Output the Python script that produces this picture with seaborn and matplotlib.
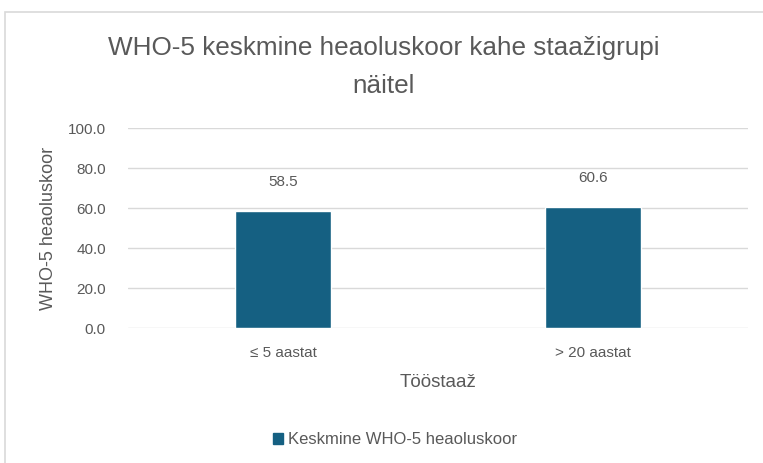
import matplotlib
matplotlib.use("Agg")
import matplotlib.pyplot as plt
import seaborn as sns
import pandas as pd
from matplotlib.patches import Rectangle, Patch

categories = ["≤ 5 aastat", "> 20 aastat"]
values = [58.5, 60.6]
series_name = "Keskmine WHO-5 heaoluskoor"
title = "WHO-5 keskmine heaoluskoor kahe staažigrupi\nnäitel"
xlabel = "Tööstaaž"
ylabel = "WHO-5 heaoluskoor"

sns.set_theme(style="white")
plt.rcParams['font.family'] = ['Liberation Sans', 'DejaVu Sans']

df = pd.DataFrame({"cat": categories, "val": values})
fig = plt.figure(figsize=(7.63, 4.63), dpi=100)
ax = fig.add_axes([128/763, 1-328/463, 620/763, 200/463])

bar_color = "#156082"
text_color = "#595959"
sns.barplot(data=df, x="cat", y="val", color=bar_color, width=0.31, ax=ax,
            saturation=1, zorder=3)
ax.set_ylim(0, 100)
ax.set_xlim(-0.5, 1.5)
ax.set_yticks([0, 20, 40, 60, 80, 100])
ax.set_yticklabels([f"{v:.1f}" for v in [0, 20, 40, 60, 80, 100]])
ax.yaxis.grid(True, color="#d9d9d9", linewidth=1, zorder=0)
for s in ax.spines.values():
    s.set_visible(False)
ax.tick_params(axis="both", length=0, colors=text_color, labelsize=11)
ax.tick_params(axis="x", pad=13)
ax.tick_params(axis="y", pad=16)
ax.set_xlabel(xlabel, color=text_color, fontsize=13.5, labelpad=10)
ax.set_ylabel(ylabel, color=text_color, fontsize=13, labelpad=8)

for c in ax.containers:
    ax.bar_label(c, fmt="%.1f", padding=16, color=text_color, fontsize=11)

fig.text(0.5 * (5 + 763) / 763, 1 - 67/463, title, ha="center", va="center",
         color=text_color, fontsize=18.8, linespacing=1.75)

fig.add_artist(Rectangle((5/763, -0.01), 1, 1 - 12/463 + 0.01, transform=fig.transFigure,
                         fill=False, edgecolor="#d9d9d9", linewidth=1.2))

handles = [Patch(facecolor=bar_color, edgecolor=bar_color)]
fig.legend(handles, [series_name], loc="center", bbox_to_anchor=(395/763, 1 - 440/463),
           frameon=False, fontsize=12, labelcolor=text_color, handlelength=0.6,
           handleheight=0.6, handletextpad=0.3)

fig.savefig("out.png", dpi=100)
